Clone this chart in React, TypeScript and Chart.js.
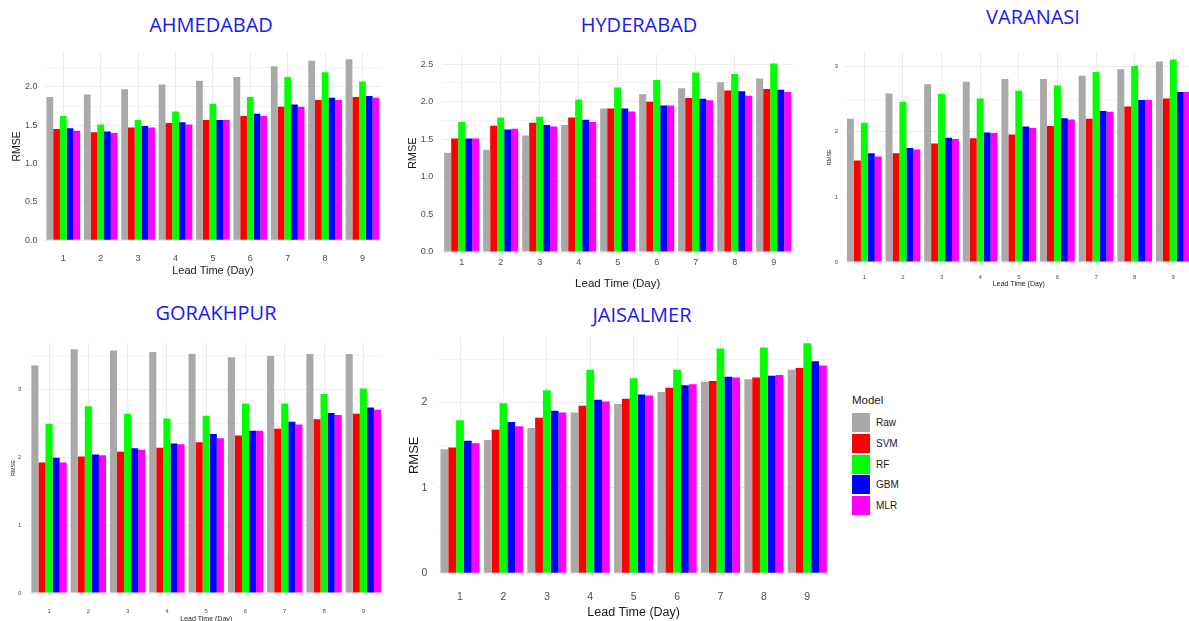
import React, { useEffect, useRef } from 'react';
import { Chart, registerables } from 'chart.js';

Chart.register(...registerables);

// ---------- data ----------
const LEAD_TIMES = ['1', '2', '3', '4', '5', '6', '7', '8', '9'];
const MODELS = ['Raw', 'SVM', 'RF', 'GBM', 'MLR'];
const MODEL_COLORS = ['#A9A9A9', '#FF0000', '#00FF00', '#0000FF', '#FF00FF'];

const AHMEDABAD_RAW = [1.87, 1.90, 1.97, 2.03, 2.08, 2.13, 2.27, 2.34, 2.36];
const AHMEDABAD_SVM = [1.45, 1.41, 1.47, 1.53, 1.57, 1.62, 1.74, 1.83, 1.87];
const AHMEDABAD_RF = [1.62, 1.51, 1.57, 1.68, 1.78, 1.87, 2.13, 2.19, 2.07];
const AHMEDABAD_GBM = [1.46, 1.42, 1.49, 1.54, 1.57, 1.65, 1.77, 1.86, 1.88];
const AHMEDABAD_MLR = [1.43, 1.40, 1.47, 1.51, 1.57, 1.62, 1.74, 1.83, 1.86];

const HYDERABAD_RAW = [1.32, 1.36, 1.55, 1.69, 1.91, 2.10, 2.18, 2.26, 2.31];
const HYDERABAD_SVM = [1.51, 1.68, 1.72, 1.79, 1.91, 2.00, 2.05, 2.15, 2.17];
const HYDERABAD_RF = [1.73, 1.79, 1.80, 2.03, 2.19, 2.29, 2.39, 2.37, 2.51];
const HYDERABAD_GBM = [1.51, 1.63, 1.69, 1.76, 1.91, 1.95, 2.04, 2.14, 2.16];
const HYDERABAD_MLR = [1.51, 1.64, 1.67, 1.73, 1.87, 1.95, 2.02, 2.08, 2.13];

const VARANASI_RAW = [2.20, 2.59, 2.73, 2.77, 2.81, 2.81, 2.86, 2.96, 3.08];
const VARANASI_SVM = [1.56, 1.67, 1.82, 1.90, 1.96, 2.09, 2.20, 2.39, 2.51];
const VARANASI_RF = [2.14, 2.46, 2.58, 2.51, 2.63, 2.71, 2.92, 3.01, 3.11];
const VARANASI_GBM = [1.67, 1.75, 1.91, 1.99, 2.08, 2.21, 2.32, 2.49, 2.61];
const VARANASI_MLR = [1.62, 1.73, 1.89, 1.98, 2.06, 2.19, 2.31, 2.49, 2.61];

const GORAKHPUR_RAW = [3.35, 3.59, 3.57, 3.55, 3.52, 3.47, 3.49, 3.52, 3.52];
const GORAKHPUR_SVM = [1.92, 2.01, 2.08, 2.14, 2.22, 2.32, 2.42, 2.56, 2.64];
const GORAKHPUR_RF = [2.49, 2.75, 2.64, 2.57, 2.61, 2.79, 2.79, 2.93, 3.01];
const GORAKHPUR_GBM = [1.99, 2.04, 2.13, 2.20, 2.34, 2.39, 2.52, 2.65, 2.73];
const GORAKHPUR_MLR = [1.92, 2.03, 2.11, 2.19, 2.28, 2.39, 2.48, 2.62, 2.70];

const JAISALMER_RAW = [1.45, 1.56, 1.70, 1.88, 1.98, 2.12, 2.24, 2.27, 2.38];
const JAISALMER_SVM = [1.47, 1.68, 1.82, 1.96, 2.04, 2.17, 2.25, 2.29, 2.40];
const JAISALMER_RF = [1.79, 1.99, 2.14, 2.38, 2.28, 2.38, 2.63, 2.64, 2.69];
const JAISALMER_GBM = [1.55, 1.77, 1.90, 2.03, 2.09, 2.20, 2.30, 2.31, 2.48];
const JAISALMER_MLR = [1.52, 1.72, 1.88, 2.01, 2.08, 2.21, 2.29, 2.32, 2.43];

const AHMEDABAD_TICKS = [0, 0.5, 1.0, 1.5, 2.0];
const HYDERABAD_TICKS = [0, 0.5, 1.0, 1.5, 2.0, 2.5];
const VARANASI_TICKS = [0, 1, 2, 3];
const GORAKHPUR_TICKS = [0, 1, 2, 3];
const JAISALMER_TICKS = [0, 1, 2];

const Y_TITLE = 'RMSE';
const X_TITLE = 'Lead Time (Day)';
const LEGEND_TITLE = 'Model';

// ---------- layout ----------
const FONT = '"Liberation Sans", Arial, sans-serif';
const TITLE_FONT = '"Open Sans", "Noto Sans", sans-serif';
const TITLE_COLOR = 'rgb(24,24,250)';

type PanelCfg = {
  title: string;
  titleX: number;
  titleY: number;
  series: number[][];
  ticks: number[];
  decimals: number;
  max: number;
  canvas: { x: number; y: number; w: number; h: number };
  area: { l: number; t: number; r: number; b: number };
  tickFont: number;
  tickPadY: number;
  tickPadX: number;
  yTitleFont: number;
  yTitlePad: number;
  xTitleFont: number;
  xTitlePad: number;
};

const PANELS: PanelCfg[] = [
  {
    title: 'AHMEDABAD', titleX: 211, titleY: 25,
    series: [AHMEDABAD_RAW, AHMEDABAD_SVM, AHMEDABAD_RF, AHMEDABAD_GBM, AHMEDABAD_MLR],
    ticks: AHMEDABAD_TICKS, decimals: 1, max: 2.45,
    canvas: { x: 0, y: 40, w: 395, h: 245 },
    area: { l: 44.6, t: 48.8, r: 381.2, b: 240.3 },
    tickFont: 9, tickPadY: 7, tickPadX: 13,
    yTitleFont: 10.5, yTitlePad: 11, xTitleFont: 11, xTitlePad: 7.9,
  },
  {
    title: 'HYDERABAD', titleX: 639, titleY: 25,
    series: [HYDERABAD_RAW, HYDERABAD_SVM, HYDERABAD_RF, HYDERABAD_GBM, HYDERABAD_MLR],
    ticks: HYDERABAD_TICKS, decimals: 1, max: 2.63,
    canvas: { x: 400, y: 40, w: 400, h: 255 },
    area: { l: 442.2, t: 51.8, r: 793.2, b: 252 },
    tickFont: 9, tickPadY: 9, tickPadX: 5.4,
    yTitleFont: 11, yTitlePad: 6.1, xTitleFont: 11.5, xTitlePad: 3.8,
  },
  {
    title: 'VARANASI', titleX: 1033, titleY: 17,
    series: [VARANASI_RAW, VARANASI_SVM, VARANASI_RF, VARANASI_GBM, VARANASI_MLR],
    ticks: VARANASI_TICKS, decimals: 0, max: 3.22,
    canvas: { x: 810, y: 40, w: 385, h: 252 },
    area: { l: 845, t: 52.4, r: 1192.6, b: 262 },
    tickFont: 6, tickPadY: 7, tickPadX: 11.7,
    yTitleFont: 5.5, yTitlePad: 16.4, xTitleFont: 7, xTitlePad: 3.3,
  },
  {
    title: 'GORAKHPUR', titleX: 216, titleY: 313,
    series: [GORAKHPUR_RAW, GORAKHPUR_SVM, GORAKHPUR_RF, GORAKHPUR_GBM, GORAKHPUR_MLR],
    ticks: GORAKHPUR_TICKS, decimals: 0, max: 3.68,
    canvas: { x: 0, y: 330, w: 395, h: 295 },
    area: { l: 29.4, t: 343.1, r: 383, b: 593 },
    tickFont: 6, tickPadY: 8, tickPadX: 14.7,
    yTitleFont: 5.5, yTitlePad: 10.4, xTitleFont: 7, xTitlePad: 1.3,
  },
  {
    title: 'JAISALMER', titleX: 642, titleY: 315,
    series: [JAISALMER_RAW, JAISALMER_SVM, JAISALMER_RF, JAISALMER_GBM, JAISALMER_MLR],
    ticks: JAISALMER_TICKS, decimals: 0, max: 2.76,
    canvas: { x: 400, y: 320, w: 440, h: 301 },
    area: { l: 438.3, t: 329.6, r: 829, b: 573.3 },
    tickFont: 10.5, tickPadY: 11, tickPadX: 17.1,
    yTitleFont: 13, yTitlePad: 6.9, xTitleFont: 12.5, xTitlePad: 1.3,
  },
];

function Panel({ cfg }: { cfg: PanelCfg }) {
  const ref = useRef<HTMLCanvasElement | null>(null);
  useEffect(() => {
    if (!ref.current) return;
    const { canvas, area } = cfg;
    const yWidth = area.l - canvas.x;
    const xHeight = canvas.y + canvas.h - area.b;
    const padTop = area.t - canvas.y;
    const padRight = canvas.x + canvas.w - area.r;

    // grid ticks: major ticks plus minor midpoints
    const all: number[] = [];
    cfg.ticks.forEach((v, i) => {
      all.push(v);
      const next = i < cfg.ticks.length - 1 ? cfg.ticks[i + 1] : v + (v - (cfg.ticks[i - 1] ?? 0));
      const mid = (v + next) / 2;
      if (mid <= cfg.max) all.push(mid);
    });
    const isMajor = (v: number) => cfg.ticks.some((t) => Math.abs(t - v) < 1e-9);

    const chart = new Chart(ref.current, {
      type: 'bar',
      data: {
        labels: LEAD_TIMES,
        datasets: MODELS.map((m, i) => ({
          label: m,
          data: cfg.series[i],
          backgroundColor: MODEL_COLORS[i],
          borderWidth: 0,
          categoryPercentage: 0.9,
          barPercentage: 1.0,
        })),
      },
      options: {
        responsive: false,
        animation: false,
        devicePixelRatio: 1,
        layout: { padding: { left: 0, top: padTop, right: padRight, bottom: 0 } },
        plugins: {
          legend: { display: false },
          tooltip: { enabled: false },
          title: { display: false },
        },
        scales: {
          x: {
            type: 'category',
            offset: true,
            grid: { offset: false, color: '#EBEBEB', lineWidth: 1, drawTicks: false },
            border: { display: false },
            ticks: {
              autoSkip: false,
              maxRotation: 0,
              padding: cfg.tickPadX,
              color: '#4D4D4D',
              font: { family: FONT, size: cfg.tickFont },
            },
            title: {
              display: true,
              text: X_TITLE,
              color: '#1A1A1A',
              font: { family: FONT, size: cfg.xTitleFont },
              padding: { top: 0, bottom: cfg.xTitlePad },
            },
            afterFit: (s: any) => { s.height = xHeight; },
          },
          y: {
            type: 'linear',
            min: 0,
            max: cfg.max,
            grid: {
              drawTicks: false,
              color: (c: any) => (c.tick && isMajor(c.tick.value) ? '#EBEBEB' : '#F4F4F4'),
              lineWidth: 1,
            },
            border: { display: false },
            afterBuildTicks: (s: any) => { s.ticks = all.map((v) => ({ value: v })); },
            ticks: {
              autoSkip: false,
              padding: cfg.tickPadY,
              color: '#4D4D4D',
              font: { family: FONT, size: cfg.tickFont },
              callback: (v: any) => (isMajor(Number(v)) ? Number(v).toFixed(cfg.decimals) : ''),
            },
            title: {
              display: true,
              text: Y_TITLE,
              color: '#1A1A1A',
              font: { family: FONT, size: cfg.yTitleFont },
              padding: { top: cfg.yTitlePad, bottom: 0 },
            },
            afterFit: (s: any) => { s.width = yWidth; },
          },
        },
      },
    } as any);
    return () => chart.destroy();
  }, [cfg]);

  return (
    <>
      <div
        style={{
          position: 'absolute',
          left: cfg.titleX,
          top: cfg.titleY,
          transform: 'translate(-50%, -50%)',
          whiteSpace: 'nowrap',
          fontFamily: TITLE_FONT,
          fontSize: 20,
          lineHeight: 1,
          color: TITLE_COLOR,
        }}
      >
        {cfg.title}
      </div>
      <canvas
        ref={ref}
        width={cfg.canvas.w}
        height={cfg.canvas.h}
        style={{
          position: 'absolute',
          left: cfg.canvas.x,
          top: cfg.canvas.y,
          width: cfg.canvas.w,
          height: cfg.canvas.h,
        }}
      />
    </>
  );
}

function Legend() {
  return (
    <div style={{ position: 'absolute', left: 852, top: 392, fontFamily: FONT, color: '#1A1A1A' }}>
      <div style={{ fontSize: 11.5, lineHeight: '16px', height: 20 }}>{LEGEND_TITLE}</div>
      {MODELS.map((m, i) => (
        <div key={m} style={{ position: 'absolute', left: 0, top: 20.7 + i * 20.9, height: 19, display: 'flex', alignItems: 'center' }}>
          <div style={{ width: 18, height: 19, background: MODEL_COLORS[i] }} />
          <div style={{ marginLeft: 6, fontSize: 10, whiteSpace: 'nowrap' }}>{m}</div>
        </div>
      ))}
    </div>
  );
}

export default function App() {
  return (
    <div
      style={{
        position: 'fixed',
        left: 0,
        top: 0,
        width: 1189,
        height: 621,
        overflow: 'hidden',
        background: '#FFFFFF',
      }}
    >
      {PANELS.map((p) => (
        <Panel key={p.title} cfg={p} />
      ))}
      <Legend />
    </div>
  );
}
